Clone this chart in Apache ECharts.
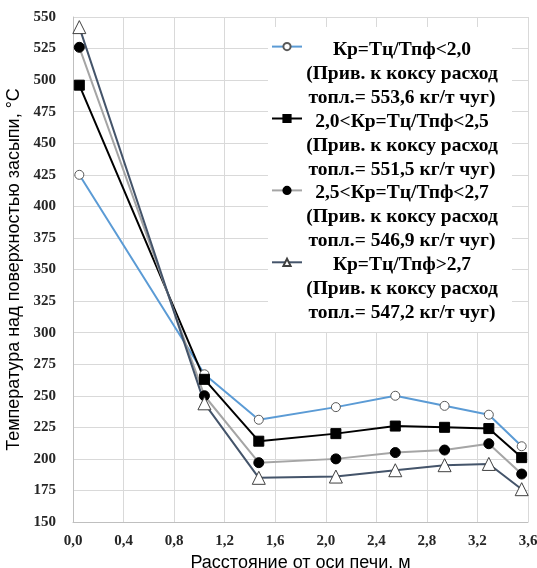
<!DOCTYPE html>
<html>
<head>
<meta charset="utf-8">
<script src="https://cdn.jsdelivr.net/npm/echarts@6/dist/echarts.min.js"></script>
<style>
  html, body { margin: 0; padding: 0; background: #fff; }
  #chart { width: 537px; height: 568px; }
</style>
</head>
<body>
<div id="chart"></div>
<script>
(function () {
  // расстояние от оси печи, м
  const distance = [0.05, 1.04, 1.47, 2.08, 2.55, 2.94, 3.29, 3.55];

  // температура над поверхностью засыпи, °С
  const tempBelow20 = [425, 267, 231, 241, 250, 242, 235, 210];
  const temp20to25 = [496, 263, 214, 220, 226, 225, 224, 201];
  const temp25to27 = [526, 250, 197, 200, 205, 207, 212, 188];
  const tempAbove27 = [542, 244, 185, 186, 191, 195, 196, 176];

  const seriesTitles = ['Кр=Тц/Тпф<2,0', '2,0<Кр=Тц/Тпф<2,5', '2,5<Кр=Тц/Тпф<2,7', 'Кр=Тц/Тпф>2,7'];
  const fuelRate = ['553,6', '551,5', '546,9', '547,2'];

  const serif = '"Liberation Serif", "Times New Roman", serif';
  const sans = '"Liberation Sans", Arial, sans-serif';

  const names = seriesTitles.map((t, i) =>
    t + ' (Прив. к коксу расход топл.= ' + fuelRate[i] + ' кг/т чуг)');

  const toPairs = (vals) => vals.map((v, i) => [distance[i], v]);

  var chart = echarts.init(document.getElementById('chart'));

  // текст легенды рисуем отдельно, чтобы значок стоял у первой строки
  const legendTexts = seriesTitles.map((t, i) => ({
    type: 'text',
    z: 100,
    x: 402,
    y: 38 + i * 71.7,
    style: {
      text: t + '\n(Прив. к коксу расход\nтопл.= ' + fuelRate[i] + ' кг/т чуг)',
      font: 'bold 19.5px ' + serif,
      fill: '#000',
      align: 'center',
      verticalAlign: 'top',
      lineHeight: 24
    }
  }));

  const option = {
    animation: false,
    backgroundColor: '#fff',
    grid: { left: 73, right: 9, top: 17, bottom: 46, outerBoundsMode: 'none', containLabel: false },
    legend: {
      orient: 'vertical',
      left: 268,
      top: 27,
      padding: [15, 205, 65, 3],
      backgroundColor: '#fff',
      itemWidth: 30,
      itemHeight: 9,
      itemGap: 62.7,
      formatter: () => '',
      textStyle: { fontSize: 9, lineHeight: 9 },
      data: names
    },
    graphic: legendTexts,
    xAxis: {
      type: 'value',
      min: 0,
      max: 3.6,
      interval: 0.4,
      name: 'Расстояние от оси печи, м',
      nameLocation: 'middle',
      nameGap: 22,
      nameTextStyle: { fontFamily: sans, fontSize: 18, color: '#000' },
      axisLine: { show: true, lineStyle: { color: '#bfbfbf' } },
      axisTick: { show: false },
      splitLine: { lineStyle: { color: '#d9d9d9' } },
      axisLabel: {
        fontFamily: serif, fontWeight: 'bold', fontSize: 15, color: '#262626', margin: 12,
        formatter: (v) => v.toFixed(1).replace('.', ',')
      }
    },
    yAxis: {
      type: 'value',
      min: 150,
      max: 550,
      interval: 25,
      name: 'Температура над поверхностью засыпи, °С',
      nameLocation: 'middle',
      nameGap: 49,
      nameTextStyle: { fontFamily: sans, fontSize: 18, color: '#000' },
      axisLine: { show: true, lineStyle: { color: '#bfbfbf' } },
      axisTick: { show: false },
      splitLine: { lineStyle: { color: '#d9d9d9' } },
      axisLabel: { fontFamily: serif, fontWeight: 'bold', fontSize: 15, color: '#262626', margin: 17 }
    },
    series: [{
      name: names[0],
      type: 'line',
      data: toPairs(tempBelow20),
      symbol: 'circle',
      symbolSize: 9,
      lineStyle: { color: '#5b9bd5', width: 2 },
      itemStyle: { color: '#fff', borderColor: '#595959', borderWidth: 1 }
    }, {
      name: names[1],
      type: 'line',
      data: toPairs(temp20to25),
      symbol: 'rect',
      symbolSize: 10,
      lineStyle: { color: '#000', width: 2 },
      itemStyle: { color: '#000', borderColor: '#000', borderWidth: 1 }
    }, {
      name: names[2],
      type: 'line',
      data: toPairs(temp25to27),
      symbol: 'circle',
      symbolSize: 10,
      lineStyle: { color: '#a5a5a5', width: 2 },
      itemStyle: { color: '#000', borderColor: '#000', borderWidth: 1 }
    }, {
      name: names[3],
      type: 'line',
      data: toPairs(tempAbove27),
      symbol: 'triangle',
      symbolSize: 13,
      lineStyle: { color: '#44546a', width: 2 },
      itemStyle: { color: '#fff', borderColor: '#404040', borderWidth: 1 }
    }]
  };

  chart.setOption(option);
})();
</script>
</body>
</html>
